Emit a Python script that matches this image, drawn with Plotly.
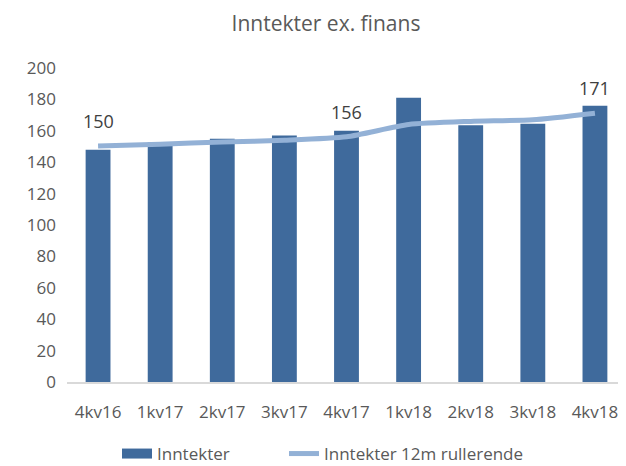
import plotly.graph_objects as go

categories = ["4kv16", "1kv17", "2kv17", "3kv17", "4kv17", "1kv18", "2kv18", "3kv18", "4kv18"]
inntekter = [148, 152.5, 155, 157, 160, 181, 163.5, 164.5, 176]
rullerende = [150.3, 151.5, 152.8, 154, 156.2, 164, 166, 167, 171.2]
label_idx = [0, 4, 8]
y_ticks = [0, 20, 40, 60, 80, 100, 120, 140, 160, 180, 200]

FONT = "'Open Sans', sans-serif"
GREY = "#595959"
BAR_COLOR = "#3f6a9c"
LINE_COLOR = "#93b1d6"

# page body has an 8px margin, so the figure is 8px smaller than the window
W, H = 618, 458
L, T, B = 59, 60, 84
PW = W - L
PH = H - T - B


def px_x(page_x):
    return (page_x - 8 - L) / PW


def px_y(page_y):
    return -(page_y - 8 - (T + PH)) / PH


fig = go.Figure()
fig.add_trace(go.Bar(
    x=categories, y=inntekter, name="Inntekter",
    marker=dict(color=BAR_COLOR, line=dict(width=0)),
    width=0.4, showlegend=False,
))
# legend entry for the bars, drawn as a wide block like the original
fig.add_trace(go.Scatter(
    x=[None], y=[None], name="Inntekter", mode="lines",
    line=dict(color=BAR_COLOR, width=10), legend="legend",
))
fig.add_trace(go.Scatter(
    x=categories, y=rullerende, name="Inntekter 12m rullerende",
    mode="lines", line=dict(color=LINE_COLOR, width=5, shape="spline", smoothing=0.6),
    legend="legend2",
))

for i in label_idx:
    fig.add_annotation(
        x=categories[i], y=rullerende[i], text=f"{rullerende[i]:.0f}",
        showarrow=False, yshift=25, font=dict(family=FONT, size=18, color="#404040"),
    )

legend_common = dict(orientation="h", xanchor="left", yanchor="middle",
                     font=dict(family=FONT, size=17, color=GREY), bgcolor="rgba(0,0,0,0)")

fig.update_layout(
    width=W, height=H,
    margin=dict(l=L, r=0, t=T, b=B, autoexpand=False),
    paper_bgcolor="white", plot_bgcolor="white",
    title=dict(text="Inntekter ex. finans", x=(326 - 8) / W, xanchor="center",
               y=1 - (24 - 8) / H, yanchor="middle",
               font=dict(family=FONT, size=21, color=GREY)),
    font=dict(family=FONT, size=17, color=GREY),
    showlegend=True,
    legend=dict(x=px_x(117), y=px_y(454), **legend_common),
    legend2=dict(x=px_x(284), y=px_y(454), **legend_common),
)
fig.update_xaxes(showline=True, linecolor="#d9d9d9", linewidth=2, ticks="", showgrid=False,
                 tickfont=dict(family=FONT, size=17, color=GREY), ticklabelstandoff=14)
fig.update_yaxes(range=[0, 200], tickvals=y_ticks, showgrid=False, zeroline=False, showline=False,
                 ticks="", tickfont=dict(family=FONT, size=17, color=GREY), ticklabelstandoff=10)

fig.write_html("out.html")
